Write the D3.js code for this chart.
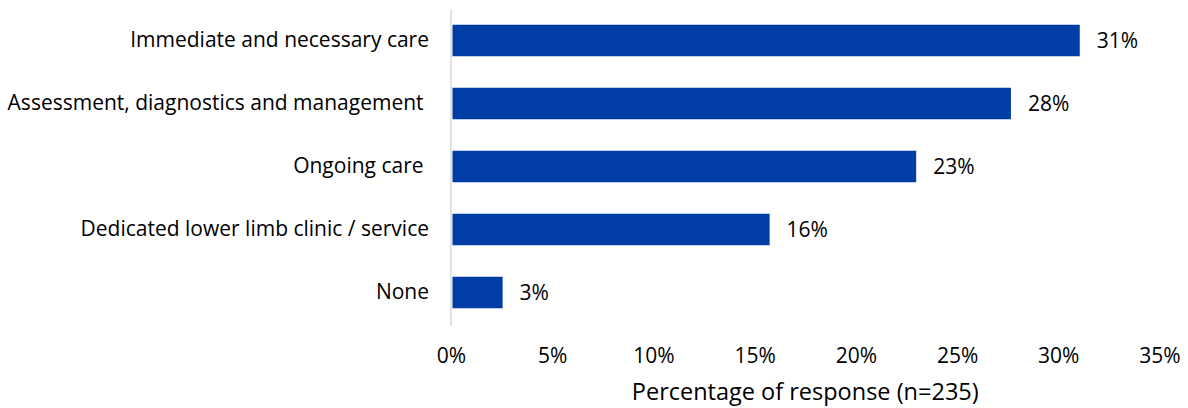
<!DOCTYPE html>
<html>
<head>
<meta charset="utf-8">
<script src="https://cdn.jsdelivr.net/npm/d3@7"></script>
<style>
  html, body { margin: 0; padding: 0; background: #fff; }
  svg { display: block; }
  text { font-family: "Open Sans", sans-serif; fill: #000; }
</style>
</head>
<body>
<svg id="chart" width="1188" height="408"></svg>
<script>
// Services available, share of respondents (n=235)
const categories = [
  "Immediate and necessary care",
  "Assessment, diagnostics and management ",
  "Ongoing care ",
  "Dedicated lower limb clinic / service",
  "None"
];
const shares = [0.3106, 0.2766, 0.2298, 0.1574, 0.0255];
const tickValues = [0, 0.05, 0.10, 0.15, 0.20, 0.25, 0.30, 0.35];
const axisTitle = "Percentage of response (n=235)";

const svg = d3.select("#chart");
const margin = { left: 451, right: 28.5, top: 9, bottom: 84 };
const width = 1188, height = 408;
const font = "'Open Sans', sans-serif";
const labelSize = 21;

const x = d3.scaleLinear()
  .domain([0, 0.35])
  .range([margin.left, width - margin.right]);

const y = d3.scaleBand()
  .domain(categories)
  .range([margin.top, height - margin.bottom])
  .paddingInner(0.5)
  .paddingOuter(0.25);

const pct = d3.format(".0%");
const barColor = "#003da5";

// bars
svg.append("g")
  .selectAll("rect")
  .data(categories)
  .join("rect")
  .attr("x", x(0) + 1.5)
  .attr("y", d => y(d))
  .attr("width", (d, i) => x(shares[i]) - x(0) - 1.5)
  .attr("height", y.bandwidth())
  .attr("fill", barColor);

// value labels
svg.append("g")
  .selectAll("text")
  .data(categories)
  .join("text")
  .attr("x", (d, i) => x(shares[i]) + 17)
  .attr("y", d => y(d) + y.bandwidth() / 2)
  .attr("dy", "0.37em")
  .attr("font-size", labelSize)
  .text((d, i) => pct(shares[i]));

// vertical axis line
svg.append("line")
  .attr("x1", x(0)).attr("x2", x(0))
  .attr("y1", margin.top).attr("y2", height - margin.bottom + 2)
  .attr("stroke", "#d9d9d9")
  .attr("stroke-width", 1.5);

// category labels
const yAxis = svg.append("g")
  .attr("transform", `translate(${x(0)},0)`)
  .call(d3.axisLeft(y).tickSize(0).tickPadding(22));
yAxis.select(".domain").remove();
yAxis.selectAll("text")
  .attr("font-size", labelSize)
  .style("font-family", font)
  .style("white-space", "pre")
  .attr("fill", "#000");

// x axis tick labels
const xAxis = svg.append("g")
  .attr("transform", `translate(0,${height - margin.bottom})`)
  .call(d3.axisBottom(x).tickValues(tickValues).tickFormat(pct).tickSize(0).tickPadding(24));
xAxis.select(".domain").remove();
xAxis.selectAll("text")
  .attr("font-size", labelSize)
  .style("font-family", font)
  .attr("fill", "#000");

// axis title
svg.append("text")
  .attr("x", (x(0) + x(0.35)) / 2)
  .attr("y", 400)
  .attr("text-anchor", "middle")
  .attr("font-size", 23.5)
  .text(axisTitle);
</script>
</body>
</html>
